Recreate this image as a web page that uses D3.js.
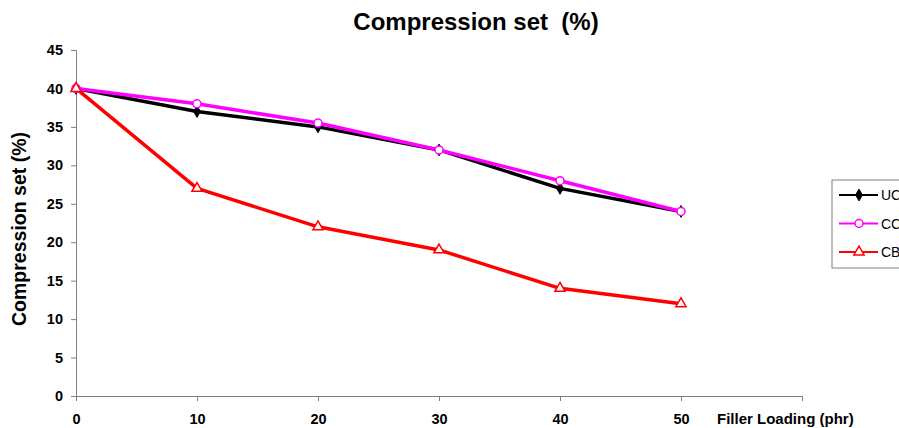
<!DOCTYPE html>
<html><head><meta charset="utf-8">
<script src="https://cdn.jsdelivr.net/npm/d3@7/dist/d3.min.js"></script>
<style>body{margin:0;background:#fff}svg{display:block;font-family:"Liberation Sans",Arial,sans-serif}</style>
</head><body><svg id="c" width="899" height="428"></svg>
<script>
const xValues = [0, 10, 20, 30, 40, 50];
const ucValues = [40, 37, 35, 32, 27, 24];
const ccValues = [40, 38, 35.5, 32, 28, 24];
const cbValues = [40, 27, 22, 19, 14, 12];
const yTicks = [0, 5, 10, 15, 20, 25, 30, 35, 40, 45];
const xTicks = [0, 10, 20, 30, 40, 50, 60];
const xTickLabels = ["0", "10", "20", "30", "40", "50", ""];
const seriesNames = ["UC", "CC", "CB"];

const svg = d3.select("#c");
const x = d3.scaleLinear().domain([0, 60]).range([76, 802]);
const y = d3.scaleLinear().domain([0, 45]).range([396, 50]);

// title
svg.append("text").attr("x", 476).attr("y", 30).attr("text-anchor", "middle")
  .attr("font-size", 24).attr("font-weight", "bold").attr("xml:space","preserve").text("Compression set  (%)");

// y axis
const ya = svg.append("g").attr("transform", "translate(76,0)")
  .call(d3.axisLeft(y).tickValues(yTicks).tickSize(5).tickPadding(8));
ya.select(".domain").attr("stroke", "#808080");
ya.selectAll(".tick line").attr("stroke", "#808080");
ya.selectAll("text").attr("font-size", 14.5).attr("font-weight", "bold").attr("fill", "#000")
  .attr("font-family", "Liberation Sans, Arial, sans-serif");

// x axis
const xa = svg.append("g").attr("transform", "translate(0,396)")
  .call(d3.axisBottom(x).tickValues(xTicks).tickSize(5).tickSizeOuter(0).tickPadding(13)
    .tickFormat((d, i) => xTickLabels[i]));
xa.select(".domain").attr("stroke", "#808080");
xa.selectAll(".tick line").attr("stroke", "#808080");
xa.selectAll("text").attr("font-size", 14.5).attr("font-weight", "bold").attr("fill", "#000")
  .attr("font-family", "Liberation Sans, Arial, sans-serif");

svg.append("text").attr("x", 717).attr("y", 424).attr("font-size", 15).attr("font-weight", "bold")
  .text("Filler Loading (phr)");

svg.append("text").attr("transform", "translate(26,229) rotate(-90)").attr("text-anchor", "middle")
  .attr("font-size", 19.5).attr("font-weight", "bold").text("Compression set (%)");

const series = [
  {name: seriesNames[0], vals: ucValues, color: "#000000", marker: "diamond"},
  {name: seriesNames[1], vals: ccValues, color: "#ff00ff", marker: "circle"},
  {name: seriesNames[2], vals: cbValues, color: "#ff0000", marker: "triangle"}
];
const line = d3.line().x(d => x(d[0])).y(d => y(d[1]));

function drawMarker(g, type, color, cx, cy) {
  if (type === "diamond") {
    g.append("path").attr("d", d3.symbol(d3.symbolDiamond, 40)()).attr("transform", `translate(${cx},${cy})`)
      .attr("fill", color).attr("stroke", color).attr("stroke-width", 1);
  } else if (type === "circle") {
    g.append("circle").attr("cx", cx).attr("cy", cy).attr("r", 4).attr("fill", "#fff")
      .attr("stroke", color).attr("stroke-width", 1.5);
  } else {
    g.append("path").attr("d", d3.symbol(d3.symbolTriangle, 45)()).attr("transform", `translate(${cx},${cy})`)
      .attr("fill", "#fff").attr("stroke", color).attr("stroke-width", 1.5);
  }
}

series.forEach(s => {
  const data = xValues.map((v, i) => [v, s.vals[i]]);
  svg.append("path").datum(data).attr("d", line).attr("fill", "none")
    .attr("stroke", s.color).attr("stroke-width", 3.5).attr("stroke-linejoin", "round");
  const g = svg.append("g");
  data.forEach(d => drawMarker(g, s.marker, s.color, x(d[0]), y(d[1])));
});

// legend (partly beyond the right edge, as in the original)
svg.append("rect").attr("x", 832).attr("y", 180).attr("width", 80).attr("height", 88)
  .attr("fill", "#fff").attr("stroke", "#808080").attr("stroke-width", 1);
series.forEach((s, i) => {
  const ly = 195 + i * 28.5;
  svg.append("line").attr("x1", 839).attr("x2", 878).attr("y1", ly).attr("y2", ly)
    .attr("stroke", s.color).attr("stroke-width", 2);
  drawMarker(svg, s.marker, s.color, 859, ly);
  svg.append("text").attr("x", 881).attr("y", ly + 5).attr("font-size", 14).text(s.name);
});
</script></body></html>
